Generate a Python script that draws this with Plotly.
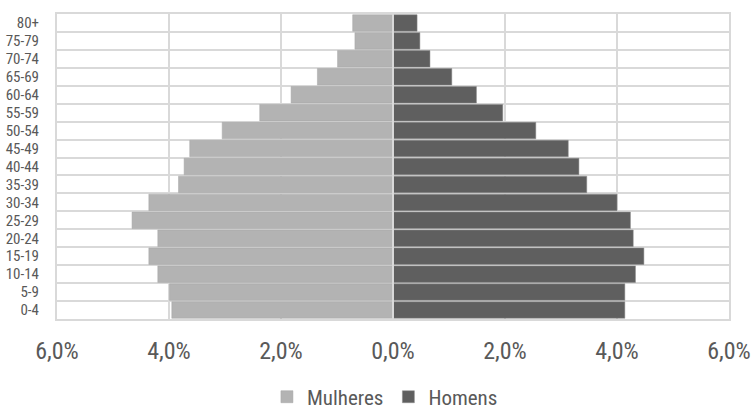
import plotly.graph_objects as go

age_groups = ["0-4", "5-9", "10-14", "15-19", "20-24", "25-29", "30-34", "35-39",
              "40-44", "45-49", "50-54", "55-59", "60-64", "65-69", "70-74", "75-79", "80+"]
mulheres = [3.95, 3.99, 4.20, 4.36, 4.20, 4.66, 4.36, 3.83,
            3.73, 3.63, 3.05, 2.38, 1.82, 1.35, 0.99, 0.68, 0.72]
homens = [4.14, 4.14, 4.33, 4.48, 4.29, 4.24, 4.00, 3.46,
          3.32, 3.13, 2.55, 1.96, 1.49, 1.05, 0.66, 0.48, 0.43]
x_tickvals = [-6, -4, -2, 0, 2, 4, 6]
x_ticktext = ["6,0%", "4,0%", "2,0%", "0,0%", "2,0%", "4,0%", "6,0%"]

FONT = "Roboto Condensed, DejaVu Sans Condensed, sans-serif"
TXT = "#595959"

fig = go.Figure()
fig.add_trace(go.Bar(
    y=age_groups, x=[-v for v in mulheres], name="Mulheres", orientation="h",
    marker=dict(color="#b3b3b3", line=dict(color="#a6a6a6", width=0.5)),
    hoverinfo="skip",
))
fig.add_trace(go.Bar(
    y=age_groups, x=homens, name="Homens", orientation="h",
    marker=dict(color="#5f5f5f", line=dict(color="#8c8c8c", width=0.5)),
    hoverinfo="skip",
))

fig.add_shape(type="line", xref="x", yref="paper", x0=0, x1=0, y0=0, y1=1,
              line=dict(color="#d9d9d9", width=2), layer="above")

fig.update_layout(
    width=753, height=409,
    margin=dict(l=57, r=24, t=13.5, b=89.5, autoexpand=False),
    barmode="overlay", bargap=0.08,
    plot_bgcolor="white", paper_bgcolor="white",
    font=dict(family=FONT, color=TXT),
    xaxis=dict(
        range=[-6, 6], tickvals=x_tickvals, ticktext=x_ticktext,
        showgrid=True, gridcolor="#d9d9d9", gridwidth=2,
        zeroline=False, showline=True, linecolor="#d9d9d9", linewidth=2, mirror=True,
        ticks="", tickfont=dict(size=24, color=TXT, family=FONT),
        ticklabelstandoff=9, automargin=False,
    ),
    yaxis=dict(
        type="category", categoryorder="array", categoryarray=age_groups,
        tickmode="array", tickvals=age_groups, ticktext=age_groups,
        tickson="boundaries", showgrid=True, gridcolor="#d9d9d9", gridwidth=2,
        showline=True, linecolor="#d9d9d9", linewidth=2, mirror=True,
        ticks="", tickfont=dict(size=15, color=TXT, family=FONT),
        ticklabelstandoff=13, automargin=False,
    ),
    legend=dict(
        orientation="h", x=0.488, xanchor="center", y=-0.256, yanchor="middle",
        font=dict(size=21, color=TXT, family=FONT), traceorder="normal",
        itemwidth=30,
    ),
    showlegend=True,
)

fig.write_html("out.html")
